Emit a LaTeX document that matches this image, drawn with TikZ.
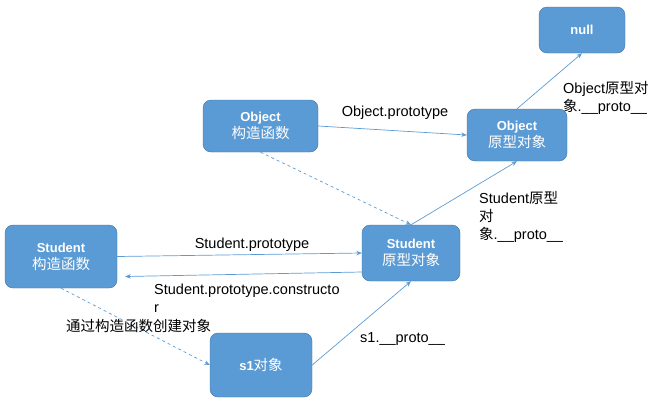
\documentclass[tikz,border=0pt]{standalone}
\usepackage{fontspec}
\setmainfont{Liberation Sans}
\newfontfamily\cjk{Noto Sans CJK SC}
\usetikzlibrary{arrows.meta}
\definecolor{boxblue}{HTML}{5B9BD5}
\definecolor{boxedge}{HTML}{41719C}
\newcommand{\zh}[1]{{\cjk #1}}
\newcommand{\boxzh}[1]{{\cjk\mdseries\fontsize{14.5}{17}\selectfont #1}}

\begin{document}
\begin{tikzpicture}[x=1pt, y=-1pt,
  obj/.style={draw=boxedge, fill=boxblue, rounded corners=8pt, text=white, align=center, inner sep=0pt, font=\fontsize{13}{17}\selectfont\bfseries},
  link/.style={boxblue, line width=0.7pt, -{Stealth[length=5.5pt,width=4.5pt]}},
  lbl/.style={inner sep=0pt, align=left, font=\fontsize{14.5}{18}\selectfont}]
\useasboundingbox (0,0) rectangle (663,405);
\node[obj, minimum width=86pt, minimum height=46pt] (null) at (582,30) {null};
\node[obj, minimum width=115pt, minimum height=52pt] (objctor) at (260.5,126) {Object\\\boxzh{构造函数}};
\node[obj, minimum width=100pt, minimum height=52pt] (objproto) at (517,135) {Object\\\boxzh{原型对象}};
\node[obj, minimum width=112pt, minimum height=63pt] (stuctor) at (61,256.5) {Student\\\boxzh{构造函数}};
\node[obj, minimum width=98pt, minimum height=56pt] (stuproto) at (411,253) {Student\\\boxzh{原型对象}};
\node[obj, minimum width=102pt, minimum height=64pt] (s1) at (261,365) {s1\boxzh{对象}};
\draw[link] (objctor.east) -- (objproto.west);
\draw[link] (objproto.north) -- (null.south);
\draw[link, dashed] (objctor.south) -- (stuproto.north);
\draw[link] (stuproto.north) -- (objproto.south);
\draw[link] (stuctor.east) -- (stuproto.west);
\draw[link] ([yshift=-19pt]stuproto.west) -- ([xshift=8pt,yshift=-20pt]stuctor.east);
\draw[link, dashed] (stuctor.south) -- (s1.west);
\draw[link] (s1.east) -- (stuproto.south);
\node[lbl] (objprotolbl) at (395,113) {Object.prototype};
\node[lbl, anchor=west] (objnextlbl) at (563,98) {Object\zh{原型对}\\\zh{象}.\_\_proto\_\_};
\node[lbl, anchor=west] (stunextlbl) at (479,216.5) {Student\zh{原型}\\\zh{对}\\\zh{象}.\_\_proto\_\_};
\node[lbl] (stuprotolbl) at (252,245) {Student.prototype};
\node[lbl, anchor=west] (ctorlbl) at (154,298) {Student.prototype.constructo\\r};
\node[lbl, anchor=west] (newlbl) at (66,326) {\zh{通过构造函数创建对象}};
\node[lbl, anchor=west] (s1lbl) at (360,339) {s1.\_\_proto\_\_};
\end{tikzpicture}
\end{document}
